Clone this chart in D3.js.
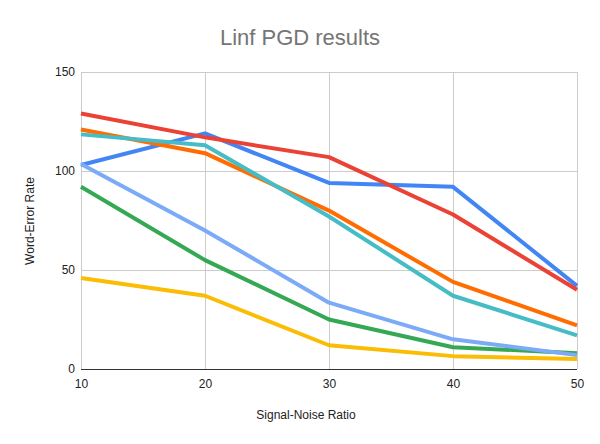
<!DOCTYPE html>
<html lang="en">
<head>
    <meta charset="UTF-8">
    <title>Linf PGD results</title>
    <script src="https://d3js.org/d3.v7.min.js"></script>
    <style>
        body { margin: 0; background: #fff; }
        text { font-family: "Liberation Sans", Arial, sans-serif; }
    </style>
</head>
<body>
    <div id="chart"></div>
    <script>
        // chart data
        const snr = [10, 20, 30, 40, 50];
        const yTicks = [0, 50, 100, 150];
        const seriesColors = ["#4285f4", "#ea4335", "#fbbc04", "#34a853", "#ff6d01", "#46bdc6", "#7baaf7"];
        const blueVals = [103, 119, 94, 92, 42];
        const redVals = [129, 117, 107, 78, 40];
        const yellowVals = [46, 37, 12, 6.5, 5];
        const greenVals = [92, 55, 25, 11, 8];
        const orangeVals = [121, 109, 80, 44, 22];
        const tealVals = [118.5, 113, 77, 37, 17];
        const lightBlueVals = [103.5, 70, 33.5, 15, 7];
        const allVals = [blueVals, redVals, yellowVals, greenVals, orangeVals, tealVals, lightBlueVals];

        const width = 600;
        const height = 444;
        const margin = {top: 72, right: 23, bottom: 75, left: 81};

        const x = d3.scaleLinear()
            .domain([10, 50])
            .range([margin.left, width - margin.right]);

        const y = d3.scaleLinear()
            .domain([0, 150])
            .range([height - margin.bottom, margin.top]);

        const svg = d3.select("#chart").append("svg")
            .attr("width", width)
            .attr("height", height);

        // gridlines
        svg.append("g")
            .attr("stroke", "#cccccc")
            .attr("stroke-width", 1)
            .selectAll("line")
            .data(yTicks.filter(d => d > 0))
            .enter().append("line")
            .attr("x1", margin.left).attr("x2", width - margin.right)
            .attr("y1", d => Math.round(y(d)) + 0.5).attr("y2", d => Math.round(y(d)) + 0.5);

        svg.append("g")
            .attr("stroke", "#cccccc")
            .attr("stroke-width", 1)
            .selectAll("line")
            .data(snr)
            .enter().append("line")
            .attr("x1", d => Math.round(x(d)) + 0.5).attr("x2", d => Math.round(x(d)) + 0.5)
            .attr("y1", margin.top).attr("y2", height - margin.bottom);

        // lines
        const line = d3.line()
            .x((d, i) => x(snr[i]))
            .y(d => y(d));

        svg.append("g")
            .selectAll("path")
            .data(allVals)
            .enter().append("path")
            .attr("fill", "none")
            .attr("stroke", (d, i) => seriesColors[i])
            .attr("stroke-width", 4)
            .attr("stroke-linejoin", "round")
            .attr("d", line);

        // baseline
        svg.append("line")
            .attr("x1", margin.left).attr("x2", width - margin.right)
            .attr("y1", Math.round(y(0)) + 0.5).attr("y2", Math.round(y(0)) + 0.5)
            .attr("stroke", "#333333");

        // axes
        const xAxis = svg.append("g")
            .attr("transform", `translate(0,${height - margin.bottom})`)
            .call(d3.axisBottom(x).tickValues(snr).tickSize(0).tickPadding(10));
        const yAxis = svg.append("g")
            .attr("transform", `translate(${margin.left},0)`)
            .call(d3.axisLeft(y).tickValues(yTicks).tickSize(0).tickPadding(6));
        [xAxis, yAxis].forEach(g => {
            g.select(".domain").remove();
            g.selectAll("text").attr("font-size", 12).attr("fill", "#222").style("font-family", "Liberation Sans, Arial, sans-serif");
        });

        // titles
        svg.append("text")
            .attr("x", 300).attr("y", 45)
            .attr("text-anchor", "middle")
            .attr("font-size", 22)
            .attr("fill", "#757575")
            .text("Linf PGD results");

        svg.append("text")
            .attr("x", 306).attr("y", 419)
            .attr("text-anchor", "middle")
            .attr("font-size", 12)
            .attr("fill", "#222")
            .text("Signal-Noise Ratio");

        svg.append("text")
            .attr("transform", "translate(34,221) rotate(-90)")
            .attr("text-anchor", "middle")
            .attr("font-size", 12)
            .attr("fill", "#222")
            .text("Word-Error Rate");
    </script>
</body>
</html>
